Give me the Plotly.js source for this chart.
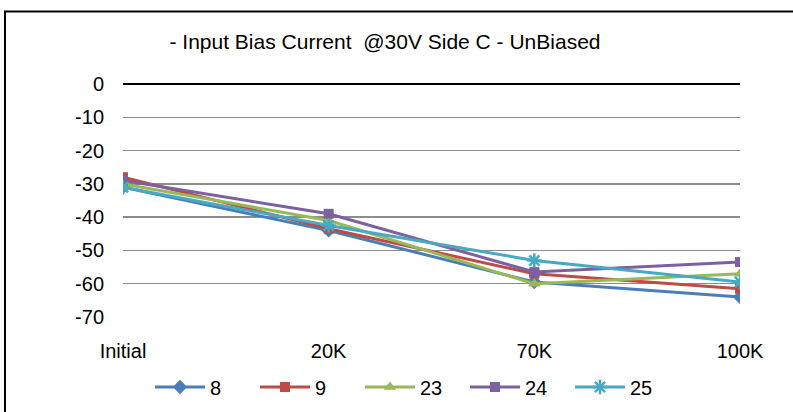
<!DOCTYPE html>
<html>
<head>
<meta charset="utf-8">
<script src="https://cdn.plot.ly/plotly-3.0.1.min.js"></script>
<style>
html,body{margin:0;padding:0;background:#fff;}
#chart{width:793px;height:412px;}
</style>
</head>
<body>
<div id="chart"></div>
<script>
const categories = ["Initial", "20K", "70K", "100K"];
const seriesNames = ["8", "9", "23", "24", "25"];
const s8  = [-31, -44, -59.5, -64];
const s9  = [-28, -43.5, -57, -61.5];
const s23 = [-30, -41, -60, -57];
const s24 = [-29, -39, -56.5, -53.5];
const s25 = [-31, -42.5, -53, -59.5];
const yTicks = [0, -10, -20, -30, -40, -50, -60, -70];

const colors = ["#4A7EBB", "#BE4B48", "#98B954", "#7D60A0", "#46AAC5"];
const symbols = ["diamond", "square", "triangle-up", "square", "asterisk-open"];
const sizes = [11, 10, 11, 10, 12];
const values = [s8, s9, s23, s24, s25];

const traces = values.map((v, i) => ({
  x: categories,
  y: v,
  name: seriesNames[i],
  type: "scatter",
  mode: "lines+markers",
  line: {color: colors[i], width: 3},
  marker: {
    color: colors[i],
    symbol: symbols[i],
    size: sizes[i],
    line: {color: colors[i], width: symbols[i] === "asterisk-open" ? 2.5 : 0}
  }
}));

const L = 123, R = 53, T = 84, B = 95;
const W = 793, H = 412;
const pw = W - L - R, ph = H - T - B;
function px2x(p){ return (p - L) / pw; }
function py2y(p){ return (H - B - p) / ph; }

const layout = {
  width: W, height: H,
  margin: {l: L, r: R, t: T, b: B, autoexpand: false},
  paper_bgcolor: "#ffffff",
  plot_bgcolor: "#ffffff",
  font: {family: "Liberation Sans, Arial, sans-serif", size: 20, color: "#000"},
  title: {
    text: "- Input Bias Current &nbsp;@30V Side C - UnBiased",
    font: {size: 21, color: "#000"},
    xref: "container", yref: "container",
    x: 385 / W, xanchor: "center",
    y: 1 - 42 / H, yanchor: "middle",
    automargin: false
  },
  xaxis: {
    type: "category",
    categoryorder: "array",
    categoryarray: categories,
    range: [0, 3],
    showgrid: false,
    showline: false,
    zeroline: false,
    ticks: "",
    ticklabelstandoff: 20,
    automargin: false,
    tickfont: {size: 20, color: "#000"}
  },
  yaxis: {
    range: [-70, 0],
    tickvals: yTicks,
    ticktext: yTicks.map(String),
    showgrid: true,
    gridcolor: "#8C8C8C",
    gridwidth: 1.5,
    zeroline: true,
    zerolinecolor: "#000",
    zerolinewidth: 1.5,
    showline: false,
    ticks: "",
    ticklabelstandoff: 18,
    automargin: false,
    tickfont: {size: 20, color: "#000"}
  },
  showlegend: true,
  legend: {
    orientation: "h",
    x: px2x(150), xanchor: "left",
    y: py2y(387), yanchor: "middle",
    font: {size: 20, color: "#000"},
    itemwidth: 50,
    entrywidth: 40,
    entrywidthmode: "pixels",
    bgcolor: "rgba(0,0,0,0)"
  },
  shapes: [{
    type: "rect", xref: "paper", yref: "paper",
    x0: px2x(5), x1: px2x(820),
    y0: py2y(440), y1: py2y(11.5),
    line: {color: "#000", width: 2},
    fillcolor: "rgba(0,0,0,0)",
    layer: "above"
  }]
};

Plotly.newPlot("chart", traces, layout, {displayModeBar: false, staticPlot: true});
</script>
</body>
</html>
